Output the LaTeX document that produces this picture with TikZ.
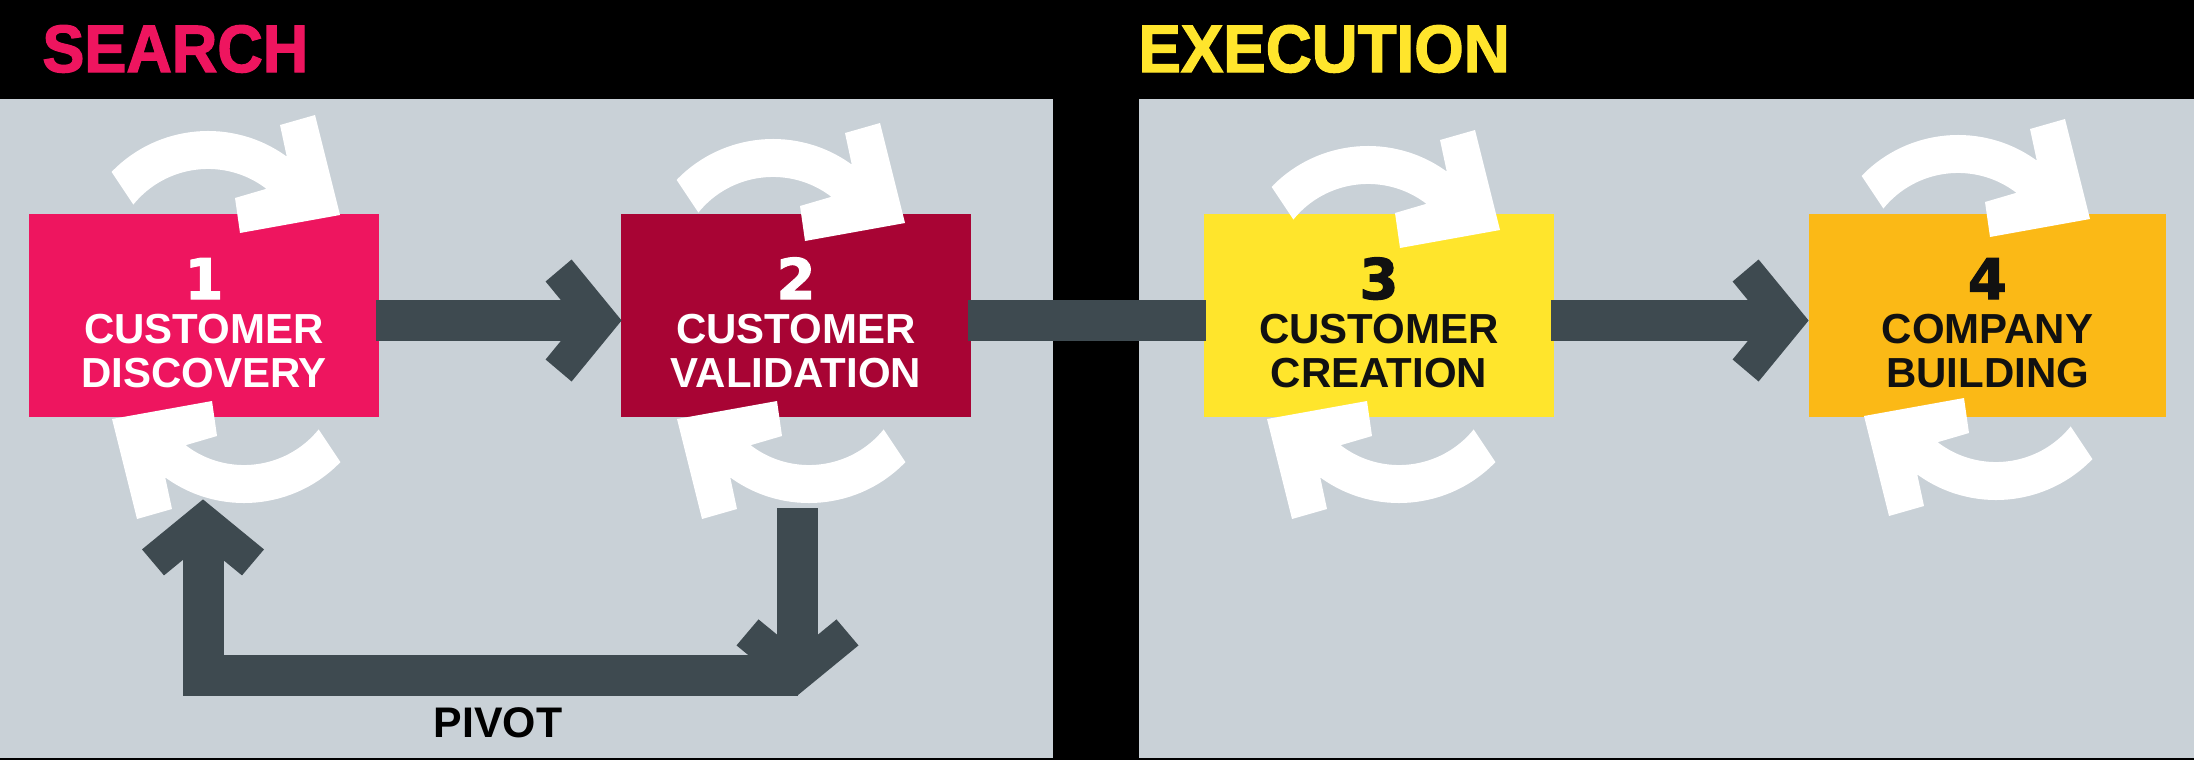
\documentclass[tikz,border=0pt]{standalone}
\usepackage{fontspec}
\usepackage{graphicx}
\setmainfont{Liberation Sans}
\newfontfamily\numfont{DejaVu Sans}[BoldFeatures={FakeBold=2}]
\newfontfamily\headfont{Liberation Sans}[BoldFeatures={FakeBold=2}]
\usetikzlibrary{calc}
\definecolor{panel}{RGB}{201,209,215}
\definecolor{slate}{RGB}{62,74,80}
\definecolor{pinkc}{RGB}{238,21,95}
\definecolor{crimson}{RGB}{168,4,52}
\definecolor{yel}{RGB}{255,229,44}
\definecolor{orng}{RGB}{251,185,22}
\definecolor{ink}{RGB}{17,17,17}
\tikzset{
  box/.style={rectangle, inner sep=0pt, minimum width=175pt, minimum height=101.5pt},
  shaft/.style={draw=slate, line width=20.5pt, line cap=butt, line join=miter},
  numtxt/.style={inner sep=0pt, anchor=base, font=\numfont\bfseries\fontsize{28}{30}\selectfont},
  linetxt/.style={inner sep=0pt, anchor=base, font=\bfseries\fontsize{21}{24}\selectfont},
  headtxt/.style={inner sep=0pt, anchor=base west, font=\headfont\bfseries\fontsize{33.5}{36}\selectfont},
  chev/.pic={\fill[slate] (0,0) -- (-50,-61) -- (-76,-39) -- (-44,0) -- (-76,39) -- (-50,61) -- cycle;},
  cyc/.pic={\fill[white] (-114.4,-145.1) arc[start angle=-136, end angle=-54, radius=134]
      -- (54,-192) -- (89,-202) -- (114,-102) -- (14,-84) -- (9,-119)
      -- (40.4,-128.2) arc[start angle=-52.5, end angle=-141, radius=96] -- cycle;}
}
\begin{document}
\begin{tikzpicture}[x=0.5pt,y=-0.5pt]
\useasboundingbox (0,0) rectangle (2194,760);
\fill[black] (0,0) rectangle (2194,760);
\fill[panel] (0,99) rectangle (1053,758);
\fill[panel] (1139,99) rectangle (2194,758);

% headings
\node[headtxt, text=pinkc] (hs) at (42,72) {\scalebox{0.94}[1]{SEARCH}};
\node[headtxt, text=yel] (he) at (1138,72) {\scalebox{0.95}[1]{EXECUTION}};

% boxes
\node[box, fill=pinkc] (b1) at (204,315.5) {};
\node[box, fill=crimson] (b2) at (796,315.5) {};
\node[box, fill=yel] (b3) at (1379,315.5) {};
\node[box, fill=orng, minimum width=178.5pt] (b4) at (1987.5,315.5) {};

% cycle arrows
\pic at (226,317) {cyc};
\pic[rotate=180] at (226,317) {cyc};
\pic at (791,325) {cyc};
\pic[rotate=180] at (791,317) {cyc};
\pic at (1386,332) {cyc};
\pic[rotate=180] at (1381,317) {cyc};
\pic at (1976,321) {cyc};
\pic[rotate=180] at (1978,314) {cyc};

% main connectors
\draw[shaft] ($(b1.east)+(-3,5)$) -- ($(b2.west)+(-40,5)$);
\pic at ($(b2.west)+(1,5)$) {chev};
\draw[shaft] ($(b2.east)+(-3,5)$) -- ($(b3.west)+(2,5)$);
\draw[shaft] ($(b3.east)+(-3,5)$) -- ($(b4.west)+(-40,5)$);
\pic at ($(b4.west)+(0,5)$) {chev};

% pivot loop
\coordinate (pvA) at ($(b2.south)+(1.5,91)$);
\coordinate (pvTip) at ($(b2.south)+(1.5,278)$);
\coordinate (pvC) at ($(b1.south)+(-1,82)$);
\draw[shaft] (pvA) -- ($(pvTip)+(0,-40)$);
\pic[rotate=-90] at (pvTip) {chev};
\draw[shaft] ($(pvTip)+(0,-19.5)$) -| ($(pvC)+(0,44)$);
\pic[rotate=90] at (pvC) {chev};
\node[inner sep=0pt, anchor=base, font=\bfseries\fontsize{21.4}{24}\selectfont] (pivot) at (498,737) {PIVOT};

% box texts
\node[numtxt, text=white] (n1) at ($(b1.center)+(0,-16.5)$) {1};
\node[linetxt, text=white] (t1a) at ($(b1.center)+(0,27.5)$) {CUSTOMER};
\node[linetxt, text=white] (t1b) at ($(b1.center)+(0,71.5)$) {DISCOVERY};
\node[numtxt, text=white] (n2) at ($(b2.center)+(0,-16.5)$) {2};
\node[linetxt, text=white] (t2a) at ($(b2.center)+(0,27.5)$) {CUSTOMER};
\node[linetxt, text=white] (t2b) at ($(b2.center)+(0,71.5)$) {VALIDATION};
\node[numtxt, text=ink] (n3) at ($(b3.center)+(0,-16.5)$) {3};
\node[linetxt, text=ink] (t3a) at ($(b3.center)+(0,27.5)$) {CUSTOMER};
\node[linetxt, text=ink] (t3b) at ($(b3.center)+(0,71.5)$) {CREATION};
\node[numtxt, text=ink] (n4) at ($(b4.center)+(0,-16.5)$) {4};
\node[linetxt, text=ink] (t4a) at ($(b4.center)+(0,27.5)$) {COMPANY};
\node[linetxt, text=ink] (t4b) at ($(b4.center)+(0,71.5)$) {BUILDING};
\end{tikzpicture}
\end{document}
